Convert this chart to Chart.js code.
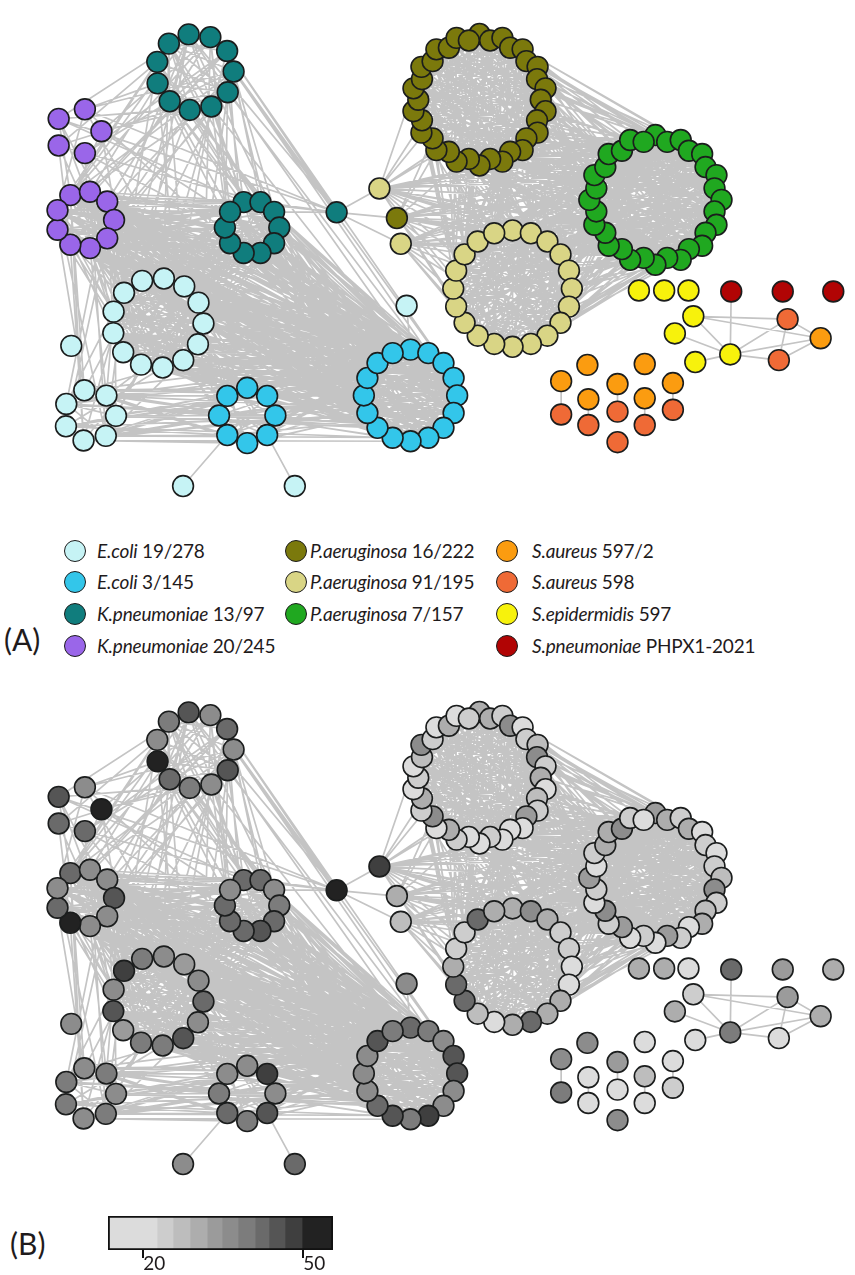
<!DOCTYPE html>
<html>
<head>
<meta charset="utf-8">
<script src="https://cdn.jsdelivr.net/npm/chart.js@4.4.0/dist/chart.umd.min.js"></script>
<style>
  body { margin: 0; background: #fff; width: 855px; height: 1275px; position: relative; overflow: hidden;
         font-family: Lato, "Open Sans", sans-serif; color: #1f1b1c; }
  canvas { position: absolute; left: 0; }
  #netA { top: 0; }
  #netB { top: 678px; }
  #cbar { left: 100px; top: 1205px; }
  .dot { position: absolute; width: 20px; height: 20px; border-radius: 50%; border: 1.6px solid #1c1c1c; }
  .lg { position: absolute; font-size: 19px; line-height: 24px; white-space: nowrap; letter-spacing: -0.2px; }
  .panel { position: absolute; font-size: 30px; line-height: 34px; }
</style>
</head>
<body>
<canvas id="netA" width="855" height="520"></canvas>
<canvas id="netB" width="855" height="520"></canvas>
<canvas id="cbar" width="250" height="75"></canvas>
<div class="panel" style="left:4px;top:622px">(A)</div>
<div class="panel" style="left:10px;top:1226px">(B)</div>
<div id="legend"></div>
<script>
// ---- legend: species / strain and colours ----
const speciesNames  = ['E.coli', 'E.coli', 'K.pneumoniae', 'K.pneumoniae', 'P.aeruginosa', 'P.aeruginosa',
                       'P.aeruginosa', 'S.aureus', 'S.aureus', 'S.epidermidis', 'S.pneumoniae'];
const speciesStrain = ['19/278', '3/145', '13/97', '20/245', '16/222', '91/195', '7/157', '597/2', '598', '597', 'PHPX1-2021'];
const speciesColors = ['#c6f3f5', '#33c6ea', '#107d7d', '#9a66e9', '#7b790c', '#d9d585', '#20a820',
                       '#fb9c10', '#ef6a36', '#f7f20c', '#b10404'];

// ---- colour bar of panel B ----
const barEdges = [13.4, 22.6, 25.6, 28.8, 32, 34.8, 37.8, 41, 43.6, 46.6, 49.8, 55.6];
const barTicks = [20, 50];

// ---- clusters: species index and the value of every node (panel B shade) ----
const clusterNames = ['tealTop', 'purpleSmall', 'purpleRing', 'tealMid', 'hub', 'paleA', 'oliveOne', 'paleB',
  'oliveRing', 'greenRing', 'paleRing', 'cyanRing', 'cyanOne', 'cyanSmall', 'blueSmall', 'cyanSat', 'blueRing',
  'cyanTop', 'yellowRow', 'redRow', 'yellowNet', 'aur598Net', 'aur597Net', 'orangeGrp', 'redOrGrp'];
const clusterSpecies = [2, 3, 3, 2, 2, 5, 4, 5, 4, 6, 5, 0, 0, 0, 1, 0, 1, 0, 9, 10, 9, 8, 7, 7, 8];

const tealTopVals     = [45, 36, 43, 36, 45, 36, 39, 41, 52, 35, 39];
const purpleSmallVals = [45, 36, 52, 41, 42];
const purpleRingVals  = [41, 36, 35, 44, 36, 36, 50, 42, 35];
const tealMidVals     = [43, 42, 35, 38, 42, 46, 43, 41, 41, 36];
const hubVals         = [50];
const paleAVals       = [47];
const oliveOneVals    = [30];
const paleBVals       = [28];
const oliveRingVals   = [30, 31, 24, 36, 22, 24, 28, 35, 24, 30, 22, 28, 24, 33, 20, 18, 22, 24,
                         18, 22, 24, 30, 20, 36, 24, 31, 22, 24, 20, 28, 35, 24, 22, 30, 20, 24];
const greenRingVals   = [33, 31, 24, 31, 22, 24, 20, 24, 28, 36, 24, 28, 31, 22, 24, 33,
                         18, 24, 20, 33, 24, 36, 22, 24, 33, 20, 24, 31, 30, 36, 24, 22];
const paleRingVals    = [30, 35, 31, 24, 24, 20, 20, 31, 30, 41, 31, 18, 27, 43, 41, 30, 24, 24, 42, 31];
const cyanRingVals    = [39, 36, 33, 36, 43, 35, 46, 38, 38, 33, 45, 35, 48];
const cyanOneVals     = [36];
const cyanSmallVals   = [35, 38, 36, 38, 36, 38, 38];
const blueSmallVals   = [35, 48, 35, 45, 38, 41, 38, 36];
const cyanSatVals     = [36, 41];
const blueRingVals    = [41, 39, 36, 46, 45, 36, 36, 48, 38, 45, 43, 36, 36, 36, 46, 38];
const cyanTopVals     = [36];
const yellowRowVals   = [31, 30, 18];
const redRowVals      = [41, 33, 31];
const yellowNetVals   = [24, 31, 20, 39];
const aur598Vals      = [33, 18];
const aur597Vals      = [30];
const orangeGrpVals   = [36, 18, 36, 33, 20, 20, 27];
const redOrGrpVals    = [39, 18, 24, 18, 20, 35];

const clusterVals = [tealTopVals, purpleSmallVals, purpleRingVals, tealMidVals, hubVals, paleAVals, oliveOneVals,
  paleBVals, oliveRingVals, greenRingVals, paleRingVals, cyanRingVals, cyanOneVals, cyanSmallVals, blueSmallVals,
  cyanSatVals, blueRingVals, cyanTopVals, yellowRowVals, redRowVals, yellowNetVals, aur598Vals, aur597Vals,
  orangeGrpVals, redOrGrpVals];

// ---- links: bundles between clusters (count) and single links between given nodes ----
const bundles = [
  ['oliveRing', 'oliveRing', 190], ['greenRing', 'greenRing', 190], ['paleRing', 'paleRing', 110],
  ['oliveRing', 'greenRing', 130], ['oliveRing', 'paleRing', 80], ['greenRing', 'paleRing', 130],
  ['cyanRing', 'cyanRing', 65], ['blueRing', 'blueRing', 65], ['purpleRing', 'purpleRing', 25],
  ['tealMid', 'tealMid', 25], ['tealTop', 'tealTop', 22], ['blueSmall', 'blueSmall', 4], ['cyanSmall', 'cyanSmall', 4],
  ['cyanRing', 'blueRing', 170], ['purpleRing', 'blueRing', 90], ['purpleRing', 'tealMid', 55],
  ['tealMid', 'blueRing', 70], ['cyanSmall', 'blueRing', 60], ['cyanRing', 'tealMid', 40],
  ['purpleRing', 'cyanRing', 40], ['cyanRing', 'blueSmall', 20], ['cyanSmall', 'blueSmall', 15],
  ['cyanSmall', 'cyanRing', 12], ['blueSmall', 'blueRing', 25], ['purpleRing', 'cyanSmall', 10],
  ['tealTop', 'tealMid', 18], ['tealTop', 'purpleRing', 16], ['tealTop', 'purpleSmall', 10],
  ['tealTop', 'blueRing', 12], ['tealTop', 'cyanRing', 12], ['purpleSmall', 'purpleRing', 5],
  ['purpleSmall', 'tealMid', 8], ['purpleSmall', 'cyanRing', 6], ['tealTop', 'hub', 4],
  ['purpleSmall', 'hub', 2], ['tealMid', 'hub', 3],
  ['paleA', 'oliveRing', 6], ['paleA', 'greenRing', 12], ['paleA', 'paleRing', 8],
  ['oliveOne', 'greenRing', 10], ['oliveOne', 'paleRing', 6], ['oliveOne', 'oliveRing', 3],
  ['paleB', 'paleRing', 8], ['paleB', 'greenRing', 8]
];
const links = [
  ['blueSmall', 5, 'cyanSat', 0], ['blueSmall', 3, 'cyanSat', 1], ['cyanTop', 0, 'blueRing', 0],
  ['hub', 0, 'paleA', 0], ['hub', 0, 'oliveOne', 0], ['hub', 0, 'paleB', 0],
  ['redRow', 0, 'yellowNet', 3], ['yellowNet', 0, 'aur598Net', 0], ['yellowNet', 0, 'yellowNet', 3],
  ['yellowNet', 1, 'yellowNet', 3], ['yellowNet', 2, 'yellowNet', 3], ['yellowNet', 3, 'aur598Net', 0],
  ['yellowNet', 3, 'aur597Net', 0], ['aur598Net', 0, 'aur597Net', 0], ['aur598Net', 1, 'aur597Net', 0],
  ['aur598Net', 0, 'aur598Net', 1], ['yellowNet', 0, 'aur597Net', 0], ['yellowNet', 3, 'aur598Net', 1],
  ['orangeGrp', 2, 'redOrGrp', 0], ['orangeGrp', 5, 'redOrGrp', 3], ['orangeGrp', 3, 'redOrGrp', 1],
  ['orangeGrp', 6, 'redOrGrp', 4], ['orangeGrp', 4, 'redOrGrp', 2]
];

// ---- layout (drawing only): ring = [cx, cy, r, start angle, wobble], pts = fixed places ----
const layout = {
  tealTop: { ring: [188, 63, 40, -99] },
  purpleSmall: { pts: [[48, 112], [75, 102], [92, 125], [48, 140], [75, 148]] },
  purpleRing: { ring: [75, 218, 30, -120] },
  tealMid: { ring: [247, 226, 28, -108] },
  hub: { pts: [[334, 210]] },
  paleA: { pts: [[378, 185]] },
  oliveOne: { pts: [[396, 216]] },
  paleB: { pts: [[400, 243]] },
  oliveRing: { ring: [481, 92, 66, -90, 3] },
  greenRing: { ring: [662, 197, 65, -90, 3] },
  paleRing: { ring: [515, 290, 61, -90] },
  cyanRing: { ring: [150, 326, 47, -110] },
  cyanOne: { pts: [[61, 350]] },
  cyanSmall: { ring: [80, 423, 27, -102] },
  blueSmall: { ring: [242, 423, 29, -90] },
  cyanSat: { pts: [[176, 497], [291, 497]] },
  blueRing: { ring: [410, 402, 48, -90] },
  cyanTop: { pts: [[406, 308]] },
  yellowRow: { pts: [[645, 292], [671, 292], [696, 292]] },
  redRow: { pts: [[740, 293], [793, 293], [845, 293]] },
  yellowNet: { pts: [[701, 319], [682, 337], [703, 367], [739, 359]] },
  aur598Net: { pts: [[798, 322], [789, 365]] },
  aur597Net: { pts: [[832, 342]] },
  orangeGrp: { pts: [[592, 370], [651, 369], [565, 387], [623, 390], [680, 389], [593, 406], [651, 405]] },
  redOrGrp: { pts: [[565, 422], [623, 419], [680, 417], [593, 433], [651, 433], [623, 451]] }
};
const barGrays = ['#dcdcdc', '#cdcdcd', '#bdbdbd', '#adadad', '#9b9b9b', '#8c8c8c', '#7c7c7c',
                  '#6a6a6a', '#555555', '#3f3f3f', '#222222'];

function placeCluster(name, n) {
  const l = layout[name];
  if (l.pts) return l.pts.map(p => ({ x: p[0], y: p[1] }));
  const [cx, cy, r, start, wob] = l.ring;
  const out = [];
  for (let k = 0; k < n; k++) {
    const a = (start + k * 360 / n) * Math.PI / 180;
    const rr = r + (wob ? (k % 2 ? -wob : wob) : 0);
    out.push({ x: cx + rr * Math.cos(a), y: cy + rr * Math.sin(a) });
  }
  return out;
}

const nodes = {};
clusterNames.forEach((name, c) => { nodes[name] = placeCluster(name, clusterVals[c].length); });

// edge segments, separated by empty points so the line breaks between them
const edgePts = [];
function addEdge(p, q) {
  edgePts.push({ x: p.x, y: p.y }, { x: q.x, y: q.y }, { x: null, y: null });
}
bundles.forEach(([a, b, count]) => {
  const A = nodes[a], B = nodes[b];
  for (let k = 0; k < count; k++) {
    if (a === b) {
      const n = A.length;
      const i = k % n;
      const j = (i + 2 + (k * 7) % Math.max(1, n - 3)) % n;
      if (i !== j) addEdge(A[i], A[j]);
    } else {
      // walk A in order, jump through B with a stride (17) that shares no factor with any cluster size
      const i = k % A.length;
      const j = (k * 17 + Math.floor(k / A.length) * 5) % B.length;
      addEdge(A[i], B[j]);
    }
  }
});
links.forEach(([a, i, b, j]) => addEdge(nodes[a][i], nodes[b][j]));

function shade(v) {
  for (let b = 0; b < barGrays.length; b++) if (v < barEdges[b + 1]) return barGrays[b];
  return barGrays[barGrays.length - 1];
}

function networkChart(id, grey) {
  const datasets = [{
    data: edgePts, showLine: true, spanGaps: false, borderColor: '#c4c4c4', borderWidth: 1.7,
    pointRadius: 0, tension: 0, order: 10, clip: false
  }];
  clusterNames.forEach((name, c) => {
    datasets.push({
      data: nodes[name],
      pointRadius: 10.4,
      pointBorderWidth: 1.6,
      pointBorderColor: '#1b1d1d',
      pointBackgroundColor: grey ? clusterVals[c].map(shade) : speciesColors[clusterSpecies[c]],
      order: 0,
      clip: false
    });
  });
  return new Chart(document.getElementById(id), {
    type: 'scatter',
    data: { datasets },
    options: {
      responsive: false, animation: false,
      layout: { padding: 0 },
      plugins: { legend: { display: false }, tooltip: { enabled: false } },
      scales: {
        x: { type: 'linear', min: 0, max: 855, display: false },
        y: { type: 'linear', min: 0, max: 520, reverse: true, display: false }
      }
    }
  });
}
networkChart('netA', false);
networkChart('netB', true);

// ---- legend (HTML) ----
const legendCols = [[0, 1, 2, 3], [4, 5, 6], [7, 8, 9, 10]];
const colDotX = [76, 297, 508];
const colTextX = [97, 310, 532];
const rowY = [552, 583, 615, 647];
const lg = document.getElementById('legend');
legendCols.forEach((col, ci) => {
  col.forEach((s, ri) => {
    const d = document.createElement('div');
    d.className = 'dot';
    d.style.left = (colDotX[ci] - 11.6) + 'px';
    d.style.top = (rowY[ri] - 11.6) + 'px';
    d.style.background = speciesColors[s];
    lg.appendChild(d);
    const t = document.createElement('div');
    t.className = 'lg';
    t.style.left = colTextX[ci] + 'px';
    t.style.top = (rowY[ri] - 13) + 'px';
    t.innerHTML = '<i>' + speciesNames[s] + '</i> ' + speciesStrain[s];
    lg.appendChild(t);
  });
});

// ---- colour bar ----
const barSets = barGrays.map((g, b) => ({
  data: [[barEdges[b], barEdges[b + 1]]], backgroundColor: g, borderWidth: 0,
  grouped: false, barPercentage: 1, categoryPercentage: 1, order: 1
}));
barSets.push({
  data: [[barEdges[0], barEdges[barEdges.length - 1]]], backgroundColor: 'rgba(0,0,0,0)',
  borderColor: '#111', borderWidth: 1.5, borderSkipped: false,
  grouped: false, barPercentage: 1, categoryPercentage: 1, order: 0
});
new Chart(document.getElementById('cbar'), {
  type: 'bar',
  data: { labels: [''], datasets: barSets },
  options: {
    indexAxis: 'y', responsive: false, animation: false,
    layout: { padding: { left: 8, right: 17, top: 11, bottom: 0 } },
    plugins: { legend: { display: false }, tooltip: { enabled: false } },
    scales: {
      y: { display: false },
      x: {
        type: 'linear', min: barEdges[0], max: barEdges[barEdges.length - 1],
        afterBuildTicks: s => { s.ticks = barTicks.map(v => ({ value: v })); },
        afterFit: s => { s.height = 30; },
        border: { display: false },
        grid: { drawOnChartArea: false, drawTicks: true, tickLength: 8, color: '#111', lineWidth: 2 },
        ticks: { align: 'start', padding: -6, color: '#1f1b1c', font: { family: 'Lato', size: 19 } }
      }
    }
  }
});
</script>
</body>
</html>
